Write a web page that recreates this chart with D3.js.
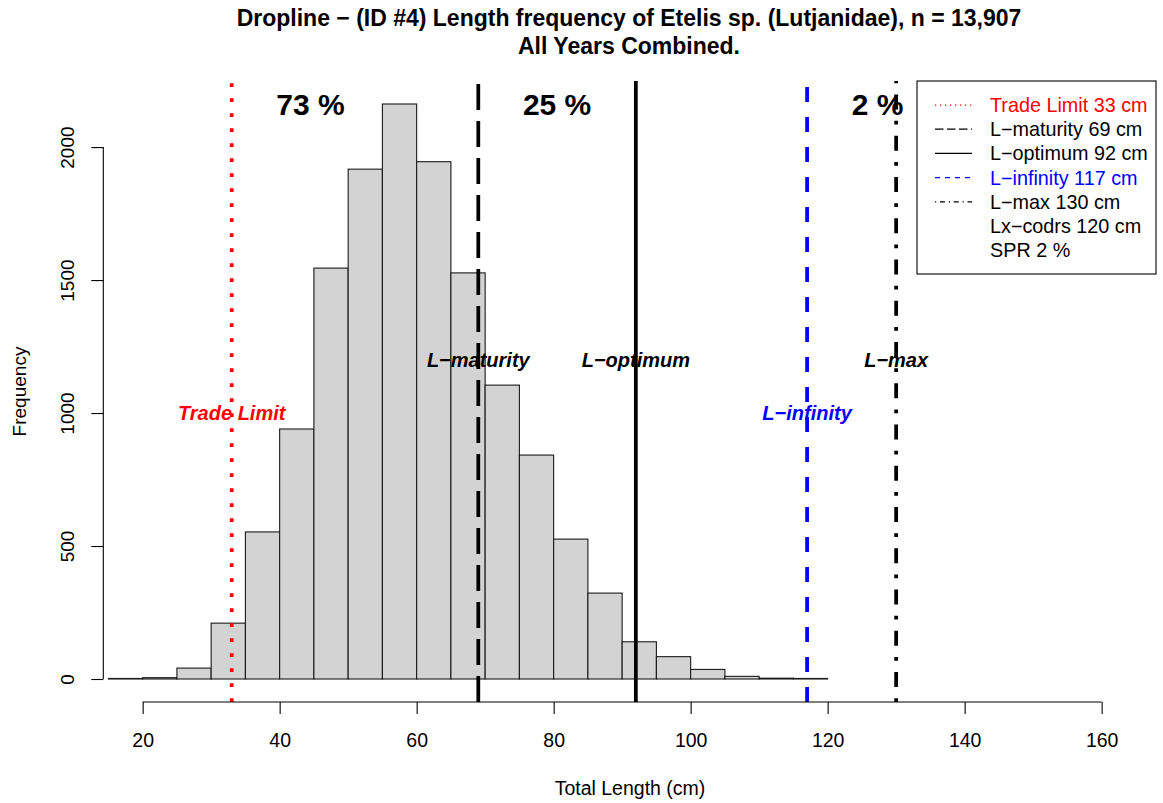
<!DOCTYPE html>
<html>
<head>
<meta charset="utf-8">
<script src="https://cdn.jsdelivr.net/npm/d3@7"></script>
<style>
  body { margin: 0; background: #fff; }
  svg { display: block; font-family: "Liberation Sans", Arial, Helvetica, sans-serif; }
</style>
</head>
<body>
<svg id="chart" width="1163" height="803"></svg>
<script>
// ---------------- data ----------------
const binStarts = [15, 20, 25, 30, 35, 40, 45, 50, 55, 60, 65, 70, 75, 80, 85, 90, 95, 100, 105, 110, 115];
const binWidth = 5;
const counts = [2, 5, 41, 210, 553, 940, 1545, 1917, 2162, 1945, 1527, 1105, 842, 526, 323, 140, 84, 36, 10, 3, 2];

const xTicks = [20, 40, 60, 80, 100, 120, 140, 160];
const yTicks = [0, 500, 1000, 1500, 2000];

const refNames  = ["Trade Limit", "L\u2212maturity", "L\u2212optimum", "L\u2212infinity", "L\u2212max"];
const refValues = [33, 69, 92, 117, 130];
const refLabelY = [1000, 1200, 1200, 1000, 1200];

const pctLabels = ["73 %", "25 %", "2 %"];
const pctX = [44.5, 80.5, 127.3];

const legendLabels = ["Trade Limit 33 cm", "L\u2212maturity 69 cm", "L\u2212optimum 92 cm",
                      "L\u2212infinity 117 cm", "L\u2212max 130 cm", "Lx\u2212codrs 120 cm", "SPR 2 %"];

const titleLines = ["Dropline \u2212 (ID #4) Length frequency of Etelis sp. (Lutjanidae), n = 13,907",
                    "All Years Combined."];
const xTitle = "Total Length (cm)";
const yTitle = "Frequency";

// ---------------- styles ----------------
const refStyles = [
  { color: "#FF0000", dash: "3.75 11.25", legDash: "1.25 3.75" },
  { color: "#000000", dash: "26 11",      legDash: "8.5 3.5" },
  { color: "#000000", dash: null,         legDash: null },
  { color: "#0000FF", dash: "15 15",      legDash: "5 5" },
  { color: "#000000", dash: "3.75 11.25 15 11.25", legDash: "1.25 3.75 5 3.75" }
];
const legendColors = ["#FF0000", "#000", "#000", "#0000FF", "#000", "#000", "#000"];

// ---------------- layout ----------------
const plot = { left: 104.3, right: 1140, top: 81, bottom: 702 };
const centerX = 629;
const xMin = 20, xMax = 160;
const xPad = (xMax - xMin) * 0.04;
const yMax = d3.max(counts);
const yPad = yMax * 0.04;

const x = d3.scaleLinear().domain([xMin - xPad, xMax + xPad]).range([plot.left, plot.right]);
const y = d3.scaleLinear().domain([-yPad, yMax + yPad]).range([plot.bottom, plot.top]);

const svg = d3.select("#chart");

svg.append("defs").append("clipPath").attr("id", "clip")
  .append("rect").attr("x", plot.left).attr("y", plot.top)
  .attr("width", plot.right - plot.left).attr("height", plot.bottom - plot.top);

// bars
svg.append("g").selectAll("rect")
  .data(binStarts.map((b, i) => ({ b, c: counts[i] })))
  .join("rect")
  .attr("x", d => x(d.b))
  .attr("width", d => x(d.b + binWidth) - x(d.b))
  .attr("y", d => y(d.c))
  .attr("height", d => y(0) - y(d.c))
  .attr("fill", "#D3D3D3")
  .attr("stroke", "#1a1a1a")
  .attr("stroke-width", 1.1);

// vertical reference lines
const gl = svg.append("g").attr("clip-path", "url(#clip)");
refValues.forEach((v, i) => {
  const ln = gl.append("line")
    .attr("x1", x(v)).attr("x2", x(v))
    .attr("y1", plot.bottom).attr("y2", plot.top)
    .attr("stroke", refStyles[i].color)
    .attr("stroke-width", 3.75);
  if (refStyles[i].dash) ln.attr("stroke-dasharray", refStyles[i].dash);
});

// ref labels
refValues.forEach((v, i) => {
  svg.append("text")
    .attr("x", x(v)).attr("y", y(refLabelY[i]) + 7)
    .attr("text-anchor", "middle")
    .attr("font-size", 20).attr("font-weight", "bold").attr("font-style", "italic")
    .attr("fill", refStyles[i].color)
    .text(refNames[i]);
});

// percentage labels
pctLabels.forEach((t, i) => {
  svg.append("text")
    .attr("x", x(pctX[i])).attr("y", y(yMax) + 11)
    .attr("text-anchor", "middle")
    .attr("font-size", 30).attr("font-weight", "bold")
    .attr("fill", "#000")
    .text(t);
});

// x axis
const xAxis = d3.axisBottom(x).tickValues(xTicks).tickSize(12).tickPadding(19).tickFormat(d3.format("d"));
const gx = svg.append("g").attr("transform", `translate(0,${plot.bottom})`).call(xAxis);
gx.select(".domain").attr("d", `M${x(xTicks[0])},0H${x(xTicks[xTicks.length - 1])}`).attr("stroke", "#000").attr("stroke-width", 1.1);
gx.selectAll(".tick line").attr("stroke", "#000").attr("stroke-width", 1.1);
gx.selectAll(".tick text").attr("font-size", 19.5).attr("fill", "#000").attr("font-family", "Liberation Sans, Arial, sans-serif");

// y axis
const yAxis = d3.axisLeft(y).tickValues(yTicks).tickSize(12).tickFormat(d3.format("d"));
const gy = svg.append("g").attr("transform", `translate(${plot.left - 1},0)`).call(yAxis);
gy.select(".domain").attr("d", `M0,${y(yTicks[0])}V${y(yTicks[yTicks.length - 1])}`).attr("stroke", "#000").attr("stroke-width", 1.1);
gy.selectAll(".tick line").attr("stroke", "#000").attr("stroke-width", 1.1);
gy.selectAll(".tick text")
  .attr("font-size", 19).attr("fill", "#000").attr("font-family", "Liberation Sans, Arial, sans-serif")
  .attr("x", null).attr("dy", null)
  .attr("text-anchor", "middle")
  .attr("transform", "translate(-29,0) rotate(-90)")
  .attr("y", 0);

// axis titles
svg.append("text").attr("x", centerX + 1).attr("y", 795)
  .attr("text-anchor", "middle").attr("font-size", 19.5).attr("fill", "#000").text(xTitle);
svg.append("text").attr("transform", `translate(26,${(plot.top + plot.bottom) / 2}) rotate(-90)`)
  .attr("text-anchor", "middle").attr("font-size", 19).attr("fill", "#000").text(yTitle);

// title
titleLines.forEach((t, i) => {
  svg.append("text").attr("x", centerX).attr("y", 26 + i * 28)
    .attr("text-anchor", "middle").attr("font-size", 23).attr("font-weight", "bold")
    .attr("fill", "#000").text(t);
});

// legend
const leg = { x: 917, y: 81, w: 239, h: 193, row: 24.2, first: 105 };
const gLeg = svg.append("g");
gLeg.append("rect").attr("x", leg.x).attr("y", leg.y).attr("width", leg.w).attr("height", leg.h)
  .attr("fill", "#fff").attr("stroke", "#000").attr("stroke-width", 1.1);
legendLabels.forEach((t, i) => {
  const cy = leg.first + i * leg.row;
  if (i < refStyles.length) {
    const ln = gLeg.append("line").attr("x1", 935).attr("x2", 972).attr("y1", cy).attr("y2", cy)
      .attr("stroke", refStyles[i].color).attr("stroke-width", 1.25);
    if (refStyles[i].legDash) ln.attr("stroke-dasharray", refStyles[i].legDash);
  }
  gLeg.append("text").attr("x", 990).attr("y", cy + 7)
    .attr("font-size", 19.8).attr("fill", legendColors[i]).text(t);
});
</script>
</body>
</html>
